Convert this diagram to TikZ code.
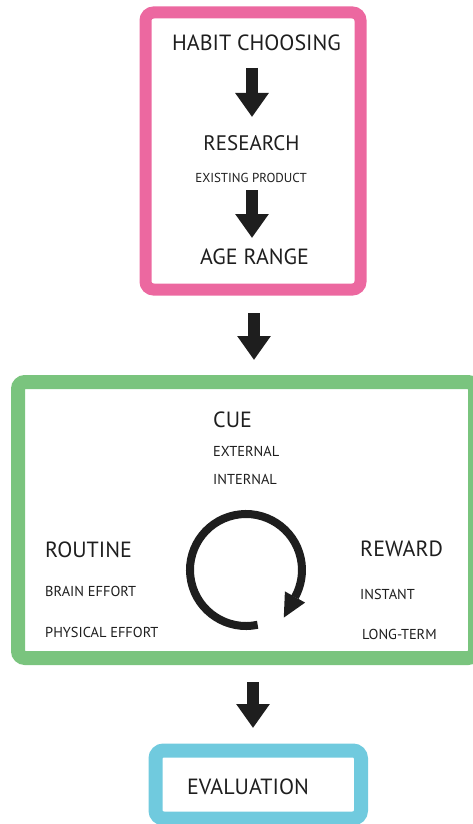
\documentclass[tikz,border=0pt]{standalone}
\usepackage{fontspec}
\setmainfont{PT Sans}
\usetikzlibrary{arrows.meta}
\definecolor{pinkframe}{RGB}{236,104,160}
\definecolor{greenframe}{RGB}{122,196,126}
\definecolor{blueframe}{RGB}{112,202,222}
\definecolor{ink}{RGB}{30,30,30}
\tikzset{
  frame/.style={line width=#1, rounded corners=8pt},
  fatarrow/.style={draw=ink, line width=12pt, -{Triangle[length=24pt,width=32pt]}},
  bigtxt/.style={inner sep=0pt, text=ink, font=\fontsize{22}{22}\selectfont},
  midtxt/.style={inner sep=0pt, text=ink, font=\fontsize{14.4}{14.4}\selectfont},
  smalltxt/.style={inner sep=0pt, text=ink, font=\fontsize{13}{13}\selectfont},
}
\begin{document}
\begin{tikzpicture}[x=1pt, y=1pt]
\useasboundingbox (0,0) rectangle (472,-824);

% frames
\draw[frame=12pt, draw=pinkframe] (145.5,-12.5) rectangle (360.5,-289.5);
\draw[frame=14pt, draw=greenframe, rounded corners=7pt] (18,-382) rectangle (475,-658);
\draw[frame=14pt, draw=blueframe] (155.5,-750.5) rectangle (361,-818.5);

% first stage
\node[bigtxt] (habit) at (256.5,-43) {HABIT CHOOSING};
\node[bigtxt, font=\fontsize{21}{21}\selectfont] (research) at (251.5,-143) {RESEARCH};
\node[smalltxt] (existing) at (251,-178) {EXISTING PRODUCT};
\node[bigtxt] (age) at (254.5,-257) {AGE RANGE};

% habit loop
\node[bigtxt, anchor=west] (cue) at (213,-420) {CUE};
\node[midtxt, anchor=west] (external) at (213,-451) {EXTERNAL};
\node[midtxt, anchor=west] (internal) at (213,-479) {INTERNAL};
\node[bigtxt, anchor=west] (routine) at (45,-550) {ROUTINE};
\node[midtxt, anchor=west] (brain) at (45,-591) {BRAIN EFFORT};
\node[midtxt, anchor=west] (physical) at (45,-632) {PHYSICAL EFFORT};
\node[bigtxt, anchor=west] (reward) at (360,-549) {REWARD};
\node[midtxt, anchor=west] (instant) at (360,-594) {INSTANT};
\node[midtxt, anchor=west] (longterm) at (362,-634) {LONG-TERM};

% final stage
\node[bigtxt] (evaluation) at (248,-787) {EVALUATION};

% arrow end points
\coordinate (a1s) at (252,-68);  \coordinate (a1e) at (252,-117);
\coordinate (a2s) at (252,-190); \coordinate (a2e) at (252,-238);
\coordinate (a3s) at (254,-313); \coordinate (a3e) at (254,-360);
\coordinate (a4s) at (253,-682); \coordinate (a4e) at (253,-728);

\draw[fatarrow] (a1s) -- (a1e);
\draw[fatarrow] (a2s) -- (a2e);
\draw[fatarrow] (a3s) -- (a3e);
\draw[fatarrow] (a4s) -- (a4e);

% loop arrow
\coordinate (loopc) at (246,-570);
\draw[ink, line width=8pt] ([shift={(-78:56)}]loopc) arc[start angle=282, end angle=-29, radius=56];
\fill[ink] (305.1,-602.6) -- (284.9,-591.4) -- (283.8,-617.6) -- cycle;
\end{tikzpicture}
\end{document}
